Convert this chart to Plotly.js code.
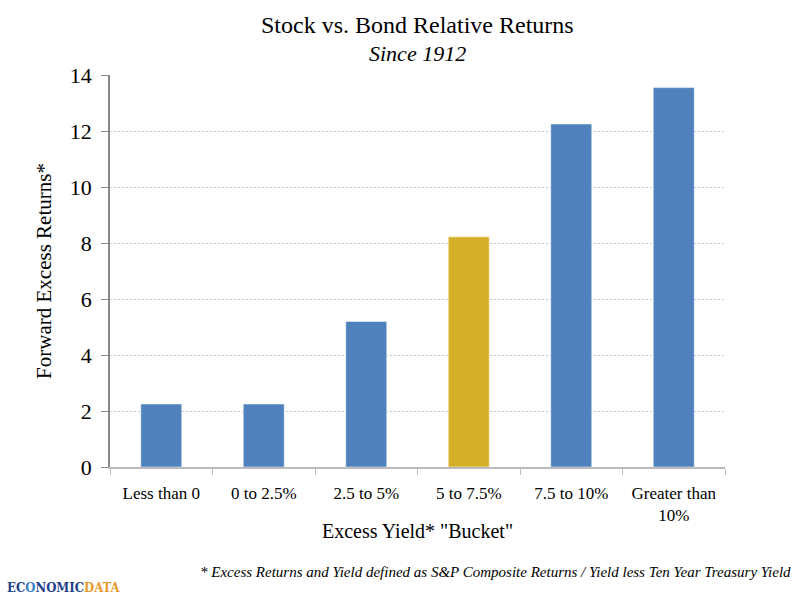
<!DOCTYPE html>
<html>
<head>
<meta charset="utf-8">
<script src="https://cdn.plot.ly/plotly-3.0.1.min.js"></script>
<style>
  html, body { margin: 0; padding: 0; background: #fff; }
  #chart { width: 800px; height: 601px; }
</style>
</head>
<body>
<div id="chart"></div>
<script>
const buckets = ['Less than 0', '0 to 2.5%', '2.5 to 5%', '5 to 7.5%', '7.5 to 10%', 'Greater than<br>10%'];
const excessReturns = [2.25, 2.25, 5.2, 8.22, 12.25, 13.55];
const barColors = ['#4f81bd', '#4f81bd', '#4f81bd', '#d4af28', '#4f81bd', '#4f81bd'];
const yTicks = [0, 2, 4, 6, 8, 10, 12, 14];

const serif = 'Liberation Serif, Times New Roman, serif';

const data = [
  {
    x: buckets,
    y: excessReturns,
    type: 'bar',
    marker: {
      color: barColors,
      line: { color: 'rgba(255,255,255,0.5)', width: 1 },
    },
    hoverinfo: 'x+y',
  },
];

const layout = {
  width: 800,
  height: 601,
  margin: { t: 75, l: 110, r: 75, b: 134 },
  paper_bgcolor: '#fff',
  plot_bgcolor: '#fff',
  showlegend: false,
  bargap: 0.6,
  font: { family: serif, color: '#000' },
  xaxis: {
    type: 'category',
    tickson: 'boundaries',
    ticks: 'outside',
    ticklen: 6,
    tickcolor: '#bbb',
    showline: true,
    linecolor: '#bbb',
    linewidth: 1.5,
    showgrid: false,
    tickfont: { size: 17 },
    ticklabelstandoff: 10,
    title: { text: 'Excess Yield* "Bucket"', font: { size: 20 }, standoff: 0 },
  },
  yaxis: {
    range: [0, 14],
    tickvals: yTicks,
    ticks: 'outside',
    ticklen: 7,
    tickcolor: '#888',
    showline: true,
    linecolor: '#888',
    linewidth: 1.5,
    zeroline: false,
    showgrid: true,
    gridcolor: '#b3cbdc',
    griddash: '2px,2px',
    gridwidth: 1,
    tickfont: { size: 22 },
    ticklabelstandoff: 5,
    title: { text: 'Forward Excess Returns*', font: { size: 21 }, standoff: 12 },
  },
  annotations: [
    {
      text: 'Stock vs. Bond Relative Returns',
      xref: 'paper', yref: 'paper', x: 0.5, y: 1, yshift: 65,
      showarrow: false, font: { size: 24 },
    },
    {
      text: '<i>Since 1912</i>',
      xref: 'paper', yref: 'paper', x: 0.5, y: 1, yshift: 36,
      showarrow: false, font: { size: 22 },
    },
    {
      text: '<i>* Excess Returns and Yield defined as S&amp;P Composite Returns / Yield less Ten Year Treasury Yield</i>',
      xref: 'paper', yref: 'paper', x: 1.11, xanchor: 'right', y: 0, yshift: -115,
      showarrow: false, font: { size: 15 },
    },
    {
      text: '<b><span style="color:#1f3e8a">EC</span><span style="color:#3a7fc4">O</span><span style="color:#1f3e8a">NOMIC</span><span style="color:#e89a2c">DATA</span></b>',
      xref: 'paper', yref: 'paper', x: -0.17, xanchor: 'left', y: 0, yshift: -130,
      showarrow: false, font: { size: 13, family: 'DejaVu Serif Condensed, DejaVu Serif, serif' },
    },
  ],
};

Plotly.newPlot('chart', data, layout, { displayModeBar: false });
</script>
</body>
</html>
